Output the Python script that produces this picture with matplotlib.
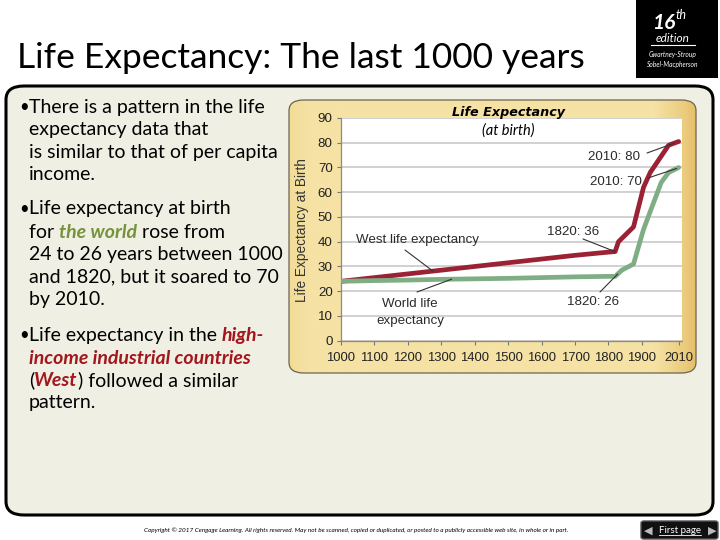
import numpy as np
import matplotlib
matplotlib.use("Agg")
import matplotlib.pyplot as plt
from matplotlib.patches import FancyBboxPatch, Rectangle
from matplotlib.colors import LinearSegmentedColormap

# --- data ---
west_years = [1000, 1100, 1200, 1300, 1400, 1500, 1600, 1700, 1800, 1820, 1830, 1875, 1905, 1925, 1980, 2010]
west_life = [24, 25.5, 27, 28.5, 30, 31.5, 33, 34.5, 35.8, 36, 40, 46, 62, 68, 79, 80.5]
world_years = [1000, 1100, 1200, 1300, 1400, 1500, 1600, 1700, 1800, 1820, 1840, 1875, 1905, 1930, 1958, 1980, 2010]
world_life = [24, 24.3, 24.5, 24.8, 25, 25.2, 25.5, 25.8, 26, 26, 28.5, 31, 45, 54, 64, 68, 70]
x_ticks = [1000, 1100, 1200, 1300, 1400, 1500, 1600, 1700, 1800, 1900, 2010]
y_ticks = [0, 10, 20, 30, 40, 50, 60, 70, 80, 90]

W, H = 720, 540
FONT = ["Lato", "DejaVu Sans"]
CHART_FONT = ["Liberation Sans", "DejaVu Sans"]
RED = "#a3161c"
GREEN = "#76933c"

fig = plt.figure(figsize=(7.2, 5.4), dpi=100)
fig.patch.set_facecolor("white")
renderer = fig.canvas.get_renderer()


def fx(x):
    return x / W


def fy(y):
    return 1 - y / H


# slide content box
box = FancyBboxPatch((fx(6), fy(515)), fx(707), (515 - 86) / H,
                     boxstyle="round,pad=0,rounding_size=0.025",
                     transform=fig.transFigure, facecolor="#efefe3",
                     edgecolor="black", linewidth=2.2, zorder=-5)
fig.patches.append(box)

# title
fig.text(fx(17), fy(68), "Life Expectancy: The last 1000 years", fontsize=25.5,
         family=FONT, va="baseline", color="black")

# edition badge
fig.patches.append(Rectangle((fx(636), fy(78)), fx(82), 78 / H,
                             transform=fig.transFigure, facecolor="black", edgecolor="none"))
fig.text(fx(675), fy(29), "16", fontsize=15, color="white", weight="bold", style="italic",
         family=FONT, ha="right", va="baseline")
fig.text(fx(676), fy(19), "th", fontsize=9, color="white", style="italic",
         family=FONT, ha="left", va="baseline")
fig.text(fx(673), fy(42), "edition", fontsize=8.5, color="white", style="italic",
         family=FONT, ha="center", va="baseline")
fig.add_artist(plt.Line2D([fx(651), fx(695)], [fy(45), fy(45)], color="white", lw=0.8))
fig.text(fx(673), fy(57), "Gwartney-Stroup", fontsize=4.8, color="white", style="italic",
         family=FONT, ha="center", va="baseline")
fig.text(fx(673), fy(67), "Sobel-Macpherson", fontsize=4.8, color="white", style="italic",
         family=FONT, ha="center", va="baseline")

# bullet text
STYLES = {
    "n": dict(color="black"),
    "g": dict(color=GREEN, weight="bold", style="italic"),
    "r": dict(color=RED, weight="bold", style="italic"),
}
BODY_SIZE = 14


def text_width(txt, sty):
    t = fig.text(0, 0, txt + "|", fontsize=BODY_SIZE, family=FONT, **STYLES[sty])
    bar = fig.text(0, 0, "|", fontsize=BODY_SIZE, family=FONT, **STYLES[sty])
    w = t.get_window_extent(renderer).width - bar.get_window_extent(renderer).width
    t.remove()
    bar.remove()
    return w


bullet_lines = [
    (112.5, True, [("There is a pattern in the life", "n")]),
    (135, False, [("expectancy data that", "n")]),
    (157.5, False, [("is similar to that of per capita", "n")]),
    (180, False, [("income.", "n")]),
    (214.5, True, [("Life expectancy at birth", "n")]),
    (237.5, False, [("for ", "n"), ("the world", "g"), (" rose from", "n")]),
    (260, False, [("24 to 26 years between 1000", "n")]),
    (282.5, False, [("and 1820, but it soared to 70", "n")]),
    (304.5, False, [("by 2010.", "n")]),
    (341, True, [("Life expectancy in the ", "n"), ("high-", "r")]),
    (364, False, [("income industrial countries", "r")]),
    (386, False, [("(", "n"), ("West", "r"), (") followed a similar", "n")]),
    (408, False, [("pattern.", "n")]),
]

for base, has_bullet, parts in bullet_lines:
    if has_bullet:
        fig.text(fx(19), fy(base - 1), "\u2022", fontsize=BODY_SIZE - 2, family=FONT,
                 va="baseline")
    x = 29
    for txt, sty in parts:
        fig.text(fx(x), fy(base), txt, fontsize=BODY_SIZE, family=FONT, va="baseline",
                 **STYLES[sty])
        x += text_width(txt, sty)

# chart panel with gradient
panel_box = (fx(289), fy(373))
panel_w, panel_h = fx(407), (373 - 100) / H
bg = fig.add_axes([panel_box[0], panel_box[1], panel_w, panel_h], zorder=-2)
bg.axis("off")
cmap = LinearSegmentedColormap.from_list(
    "panel", [(0, "#f2dc98"), (0.05, "#f5e2a4"), (0.9, "#f5e2a4"), (0.97, "#eccd80"),
              (1, "#e6c06c")])
grad = bg.imshow(np.linspace(0, 1, 256)[None, :], cmap=cmap, aspect="auto",
                 extent=[0, 1, 0, 1])
clip = FancyBboxPatch(panel_box, panel_w, panel_h,
                      boxstyle="round,pad=0,rounding_size=0.02",
                      transform=fig.transFigure)
grad.set_clip_path(clip)
panel = FancyBboxPatch(panel_box, panel_w, panel_h,
                       boxstyle="round,pad=0,rounding_size=0.02",
                       transform=fig.transFigure, facecolor="none",
                       edgecolor="#6b6450", linewidth=0.9, zorder=3)
fig.patches.append(panel)

ax = fig.add_axes([fx(341), fy(340.7), fx(682 - 341), (340.7 - 118) / H], zorder=1)
ax.set_facecolor("white")
ax.plot(west_years, west_life, color="#9b2234", lw=3.4, solid_capstyle="round", zorder=3)
ax.plot(world_years, world_life, color="#7fae84", lw=3.4, solid_capstyle="round", zorder=3)
ax.set_xlim(1000, 2020)
ax.set_ylim(0, 90)
ax.set_xticks(x_ticks)
ax.set_yticks(y_ticks)
ax.set_xticklabels([str(v) for v in x_ticks], fontsize=9.4, family=CHART_FONT, color="#222")
ax.set_yticklabels([str(v) for v in y_ticks], fontsize=9.6, family=CHART_FONT, color="#222")
ax.tick_params(axis="x", length=3, width=0.8, color="#777", pad=5)
ax.tick_params(axis="y", length=3, width=0.8, color="#777", pad=3)
ax.grid(axis="y", color="#c9c9c9", lw=1.2)
for s in ["top", "right"]:
    ax.spines[s].set_visible(False)
for s in ["left", "bottom"]:
    ax.spines[s].set_color("#8a8a8a")
    ax.spines[s].set_linewidth(0.9)
ax.set_axisbelow(True)
fig.text(fx(302), fy(230), "Life Expectancy at Birth", rotation=90, fontsize=9.8,
         family=CHART_FONT, color="#333", ha="center", va="center")

fig.text(fx(508), fy(116), "Life Expectancy", fontsize=9.2, weight="bold", style="italic",
         family=["DejaVu Sans"], ha="center", va="baseline", color="black")
fig.text(fx(508), fy(135), "(at birth)", fontsize=10.5, style="italic",
         family=FONT, ha="center", va="baseline", color="black")

# annotations: labels and leader lines
labels = [
    ("West life expectancy", 356, 240, "left"),
    ("World life", 410, 304, "center"),
    ("expectancy", 410, 321, "center"),
    ("1820: 36", 573, 232, "center"),
    ("1820: 26", 593, 302, "center"),
    ("2010: 80", 614, 157, "center"),
    ("2010: 70", 616, 182, "center"),
]
for txt, px, py, ha in labels:
    fig.text(fx(px), fy(py), txt, fontsize=9.6, family=CHART_FONT, color="#2b2b2b",
             ha=ha, va="center")

leaders = [
    ((405, 250), 1275, west_years, west_life),
    ((417, 292), 1331, world_years, world_life),
    ((583, 239), 1820, west_years, west_life),
    ((600, 292), 1828, world_years, world_life),
    ((647, 153), 1995, west_years, west_life),
    ((648, 178), 2004, world_years, world_life),
]
for (px, py), yr, xs, ys in leaders:
    ax.annotate("", xy=(yr, np.interp(yr, xs, ys)), xycoords="data",
                xytext=(px, H - py), textcoords="figure pixels",
                arrowprops=dict(arrowstyle="-", color="#333333", lw=0.8,
                                shrinkA=0, shrinkB=0), zorder=4)

# footer
fig.text(fx(356), fy(530),
         "Copyright \u00a9 2017 Cengage Learning. All rights reserved. May not be scanned, copied or "
         "duplicated, or posted to a publicly accessible web site, in whole or in part.",
         fontsize=4.6, style="italic", family=FONT, ha="center", va="center", color="black")
btn = FancyBboxPatch((fx(641), fy(539)), fx(77), 18 / H,
                     boxstyle="round,pad=0,rounding_size=0.004",
                     transform=fig.transFigure, facecolor="#111111", edgecolor="#555")
fig.patches.append(btn)
fig.text(fx(680), fy(530.5), "First page", fontsize=7, color="white", family=FONT,
         ha="center", va="center")
fig.add_artist(plt.Line2D([fx(659), fx(701)], [fy(535), fy(535)], color="white", lw=0.6))
fig.text(fx(648), fy(530.5), "\u25c0", fontsize=8, color="#bbbbbb", family=["DejaVu Sans"],
         ha="center", va="center")
fig.text(fx(712), fy(530.5), "\u25b6", fontsize=8, color="#bbbbbb", family=["DejaVu Sans"],
         ha="center", va="center")

fig.savefig("out.png", dpi=100)
